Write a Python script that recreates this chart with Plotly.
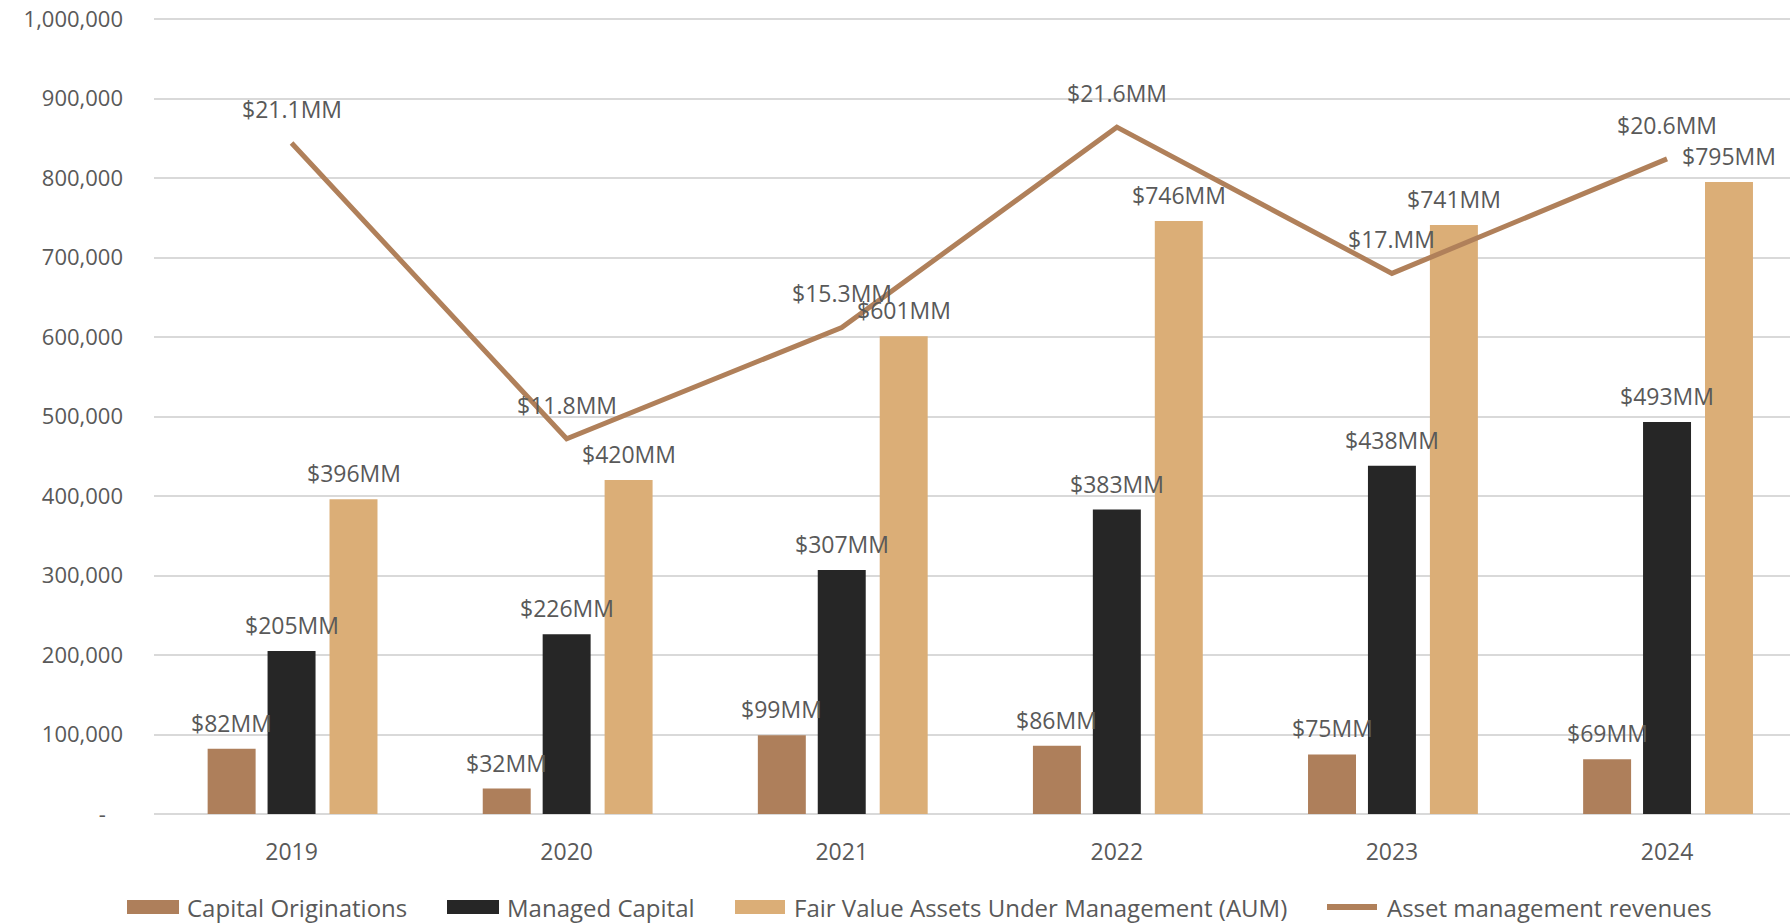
import plotly.graph_objects as go

years = ["2019", "2020", "2021", "2022", "2023", "2024"]
capital_originations = [82000, 32000, 99000, 86000, 75000, 69000]
managed_capital = [205000, 226000, 307000, 383000, 438000, 493000]
fair_value_aum = [396000, 420000, 601000, 746000, 741000, 795000]
asset_mgmt_revenues = [21.1, 11.8, 15.3, 21.6, 17.0, 20.6]
revenue_labels = ["$21.1MM", "$11.8MM", "$15.3MM", "$21.6MM", "$17.MM", "$20.6MM"]
y_tickvals = [0, 100000, 200000, 300000, 400000, 500000, 600000, 700000, 800000, 900000, 1000000]
y_ticktext = ["-\u00a0\u00a0\u00a0", "100,000", "200,000", "300,000", "400,000", "500,000",
              "600,000", "700,000", "800,000", "900,000", "1,000,000"]

C_BROWN = "#AE7F5B"
C_BLACK = "#262626"
C_TAN = "#DBAE77"
C_LINE = "#B0805A"
C_TEXT = "#595959"
C_GRID = "#D9D9D9"
FONT = "Open Sans"

W, H = 1790, 923
L, R, T, B = 154, 0, 14, 109
PW = W - L - R
PH = H - T - B
Y_MAX = 1000000 * PH / 795.0
X_MAX = 5.447
CAT_PX = PW / (X_MAX + 0.5)

BAR_W = 0.1744
series = [
    ("Capital Originations", capital_originations, C_BROWN, -0.305),
    ("Managed Capital", managed_capital, C_BLACK, -0.0872),
    ("Fair Value Assets Under Management (AUM)", fair_value_aum, C_TAN, 0.138),
]

fig = go.Figure()
annotations = []
for name, vals, col, off in series:
    fig.add_trace(go.Bar(
        x=years, y=vals, name=name, marker=dict(color=col, line=dict(width=0)),
        width=BAR_W, offset=off, showlegend=False, hoverinfo="skip",
    ))
    shift = (off + BAR_W / 2) * CAT_PX
    for i, v in enumerate(vals):
        annotations.append(dict(
            x=i, y=v, xref="x", yref="y", text=f"${v/1000:.0f}MM", showarrow=False,
            xshift=shift, yshift=26, xanchor="center", yanchor="middle",
            font=dict(family=FONT, size=23, color=C_TEXT),
        ))

fig.add_trace(go.Scatter(
    x=years, y=asset_mgmt_revenues, name="Asset management revenues", mode="lines",
    line=dict(color=C_LINE, width=5), yaxis="y2", showlegend=False, hoverinfo="skip",
))
for i, (v, t) in enumerate(zip(asset_mgmt_revenues, revenue_labels)):
    annotations.append(dict(
        x=i, y=v, xref="x", yref="y2", text=t, showarrow=False,
        yshift=34, xanchor="center", yanchor="middle",
        font=dict(family=FONT, size=23, color=C_TEXT),
    ))

# custom legend
def px_x(p):
    return (p - L) / PW

def px_y(p):
    return (H - B - p) / PH

shapes = []
legend_items = [
    ("Capital Originations", C_BROWN, "rect", 127, 179, 185),
    ("Managed Capital", C_BLACK, "rect", 447, 499, 505),
    ("Fair Value Assets Under Management (AUM)", C_TAN, "rect", 735, 785, 792),
    ("Asset management revenues", C_LINE, "line", 1324, 1380, 1385),
]
LEG_Y = 907
for text, col, kind, x0, x1, tx in legend_items:
    if kind == "rect":
        shapes.append(dict(type="rect", xref="paper", yref="paper",
                           x0=px_x(x0), x1=px_x(x1), y0=px_y(LEG_Y + 7), y1=px_y(LEG_Y - 7),
                           fillcolor=col, line=dict(width=0)))
    else:
        shapes.append(dict(type="line", xref="paper", yref="paper",
                           x0=px_x(x0 + 3), x1=px_x(x1 - 3), y0=px_y(LEG_Y), y1=px_y(LEG_Y),
                           line=dict(color=col, width=6)))
    annotations.append(dict(
        x=px_x(tx), y=px_y(LEG_Y), xref="paper", yref="paper", text=text, showarrow=False,
        xanchor="left", yanchor="middle", font=dict(family=FONT, size=24, color=C_TEXT),
    ))

fig.update_layout(
    width=W, height=H,
    margin=dict(l=L, r=R, t=T, b=B, pad=0),
    paper_bgcolor="white", plot_bgcolor="white",
    barmode="overlay",
    font=dict(family=FONT, size=22, color=C_TEXT),
    xaxis=dict(type="category", range=[-0.5, X_MAX], showgrid=False, showline=False,
               ticks="", tickfont=dict(family=FONT, size=23, color=C_TEXT),
               ticklabelstandoff=22, fixedrange=True),
    yaxis=dict(range=[0, Y_MAX], tickvals=y_tickvals, ticktext=y_ticktext,
               showgrid=True, gridcolor=C_GRID, gridwidth=1.5,
               zeroline=True, zerolinecolor=C_GRID, zerolinewidth=1.5,
               showline=False, ticks="", ticklabelstandoff=30,
               tickfont=dict(family=FONT, size=22, color=C_TEXT), fixedrange=True),
    yaxis2=dict(range=[0, 25 * Y_MAX / 1000000], overlaying="y", side="right",
                visible=False, fixedrange=True),
    annotations=annotations,
    shapes=shapes,
    showlegend=False,
)

fig.write_html("out.html", config={"displayModeBar": False})
